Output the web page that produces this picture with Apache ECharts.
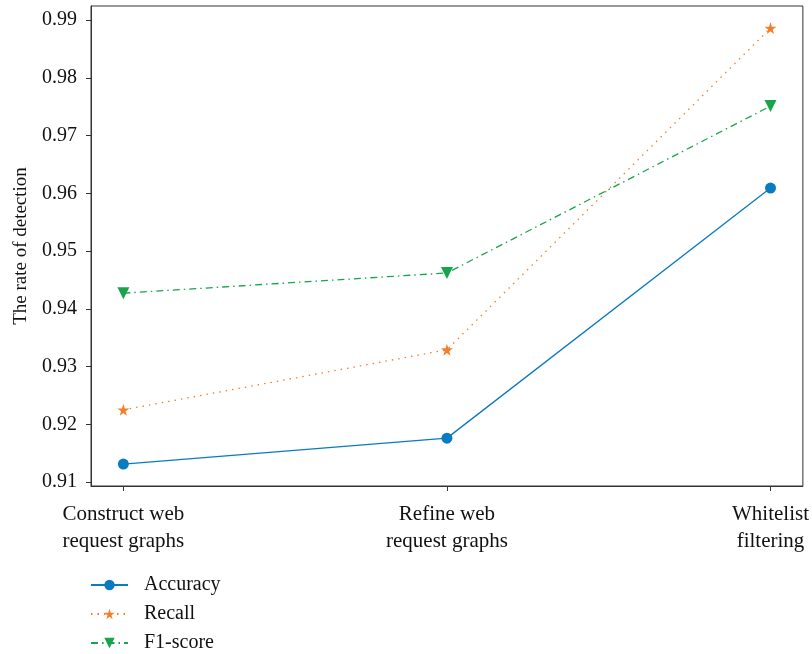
<!DOCTYPE html>
<html><head><meta charset="utf-8">
<script src="https://cdn.jsdelivr.net/npm/echarts@6/dist/echarts.min.js"></script>
<style>html,body{margin:0;padding:0;background:#fff}#c{width:812px;height:654px}</style>
</head><body><div id="c"></div>
<script>
const categories = ['Construct web\nrequest graphs', 'Refine web\nrequest graphs', 'Whitelist\nfiltering'];
const accuracy = [0.9131, 0.9176, 0.9609];
const recall = [0.9225, 0.9329, 0.9886];
const f1score = [0.9427, 0.9462, 0.9751];
const yTicks = [0.91, 0.92, 0.93, 0.94, 0.95, 0.96, 0.97, 0.98, 0.99];

const font = 'Liberation Serif';
const pts = arr => arr.map((v, i) => [i, v]);
const chart = echarts.init(document.getElementById('c'));
chart.setOption({
  animation: false,
  grid: {left: 91, right: 8, top: 6, bottom: 168, show: true, borderColor: '#333', borderWidth: 1},
  xAxis: {
    type: 'value', min: -0.1, max: 2.1,
    axisLine: {onZero: false, lineStyle: {color: '#333'}},
    splitLine: {show: false},
    axisTick: {customValues: [0, 1, 2], length: 5, lineStyle: {color: '#333'}},
    axisLabel: {customValues: [0, 1, 2], formatter: v => categories[Math.round(v)], color: '#111', fontFamily: font, fontSize: 21, lineHeight: 27, margin: 15}
  },
  yAxis: {
    type: 'value', min: 0.90931, max: 0.99243,
    name: 'The rate of detection', nameLocation: 'middle', nameGap: 60,
    nameTextStyle: {color: '#111', fontFamily: font, fontSize: 19},
    axisLine: {show: true, onZero: false, lineStyle: {color: '#333'}},
    splitLine: {show: false},
    axisTick: {customValues: yTicks, length: 5, lineStyle: {color: '#333'}},
    axisLabel: {customValues: yTicks, formatter: v => v.toFixed(2), color: '#111', fontFamily: font, fontSize: 20, margin: 14}
  },
  legend: {
    orient: 'vertical', left: 90, top: 575, padding: 0, itemWidth: 37, itemHeight: 13, itemGap: 9,
    textStyle: {color: '#111', fontFamily: font, fontSize: 20, lineHeight: 19, padding: [0, 0, 0, 11]},
    data: ['Accuracy', 'Recall', 'F1-score']
  },
  series: [
    {name: 'Accuracy', type: 'line', data: pts(accuracy), symbol: 'circle', symbolSize: 11,
     itemStyle: {color: '#0a7bc0'}, lineStyle: {color: '#0a7bc0', width: 1.3}},
    {name: 'Recall', type: 'line', data: pts(recall), symbol: 'path://M50,0 L61,35 L98,35 L68,57 L79,92 L50,70 L21,92 L32,57 L2,35 L39,35 Z', symbolSize: 12,
     itemStyle: {color: '#f47d2a'}, lineStyle: {color: '#f47d2a', width: 1.3, type: [1.5, 5]}},
    {name: 'F1-score', type: 'line', data: pts(f1score), symbol: 'triangle', symbolRotate: 180, symbolSize: 12,
     itemStyle: {color: '#17a44a'}, lineStyle: {color: '#17a44a', width: 1.3, type: [7, 4, 1.5, 4]}}
  ]
});
</script></body></html>
